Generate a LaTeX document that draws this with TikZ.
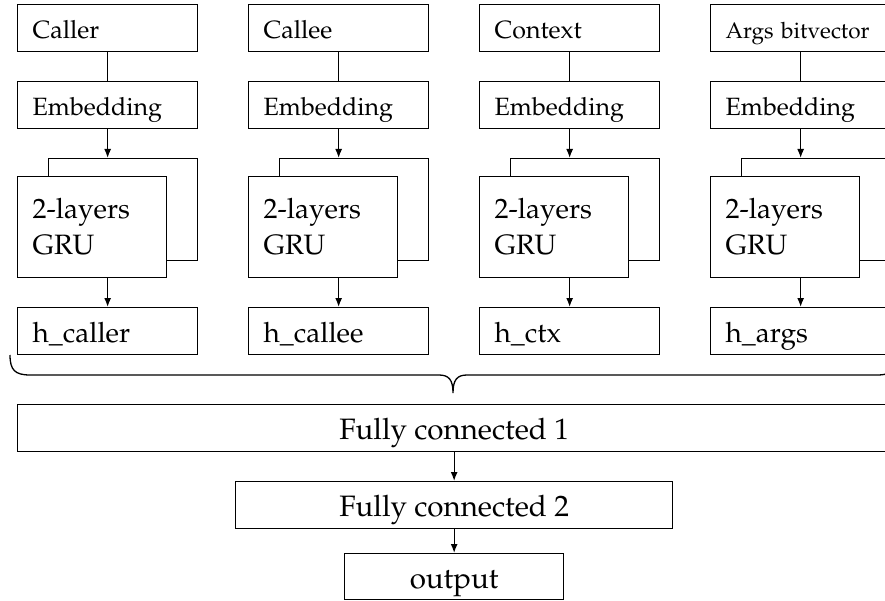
\documentclass[tikz,border=0pt]{standalone}
\usepackage[T1]{fontenc}
\usepackage{mathpazo}
\usetikzlibrary{arrows.meta}

\begin{document}
\begin{tikzpicture}[x=1pt, y=-1pt, line width=1.3pt,
  arr/.style={-{Latex[length=9pt,width=7pt]}},
  inbox/.style={draw, rectangle, anchor=north west, inner ysep=0pt, inner xsep=15pt,
    text width=150pt, minimum height=47pt, align=left,
    text height=22.5pt, text depth=2.5pt},
  hbox/.style={inbox, font=\fontsize{28}{34}\selectfont,
    text height=25.2pt, text depth=2.8pt},
  gruback/.style={draw, rectangle, anchor=north west, inner sep=0pt,
    minimum width=149pt, minimum height=102pt},
  grufront/.style={draw, fill=white, rectangle, anchor=north west, inner ysep=0pt,
    inner xsep=15pt, text width=119pt, minimum height=101pt, align=left,
    font=\fontsize{28}{36}\selectfont},
  fcbox/.style={draw, rectangle, anchor=north west, inner sep=0pt,
    minimum height=47pt, align=center, font=\fontsize{29.5}{35}\selectfont,
    text height=26.5pt, text depth=3pt}
]
\useasboundingbox (0,0) rectangle (885,601);
\clip (0,0) rectangle (885,601);

% four input branches
\foreach \i/\txt/\hx/\fs in {1/Caller/caller/25, 2/Callee/callee/25,
                              3/Context/ctx/25, 4/Args bitvector/args/22.5} {
  \pgfmathsetmacro\L{17+231*(\i-1)}
  \node[inbox, font=\fontsize{\fs}{\fs}\selectfont] (in\i) at (\L,4) {\txt};
  \node[inbox, font=\fontsize{25}{30}\selectfont] (emb\i) at (\L,81) {Embedding};
  \node[gruback] (gruB\i) at (\L+31,158) {};
  \node[grufront] (gru\i) at (\L,176) {2-layers\\GRU};
  \node[hbox] (h\i) at (\L,307) {h\_\hx};
  \draw (in\i) -- (emb\i);
  \draw[arr] (emb\i.south) -- (emb\i.south |- gruB\i.north);
  \draw[arr] (h\i.north |- gru\i.south) -- (h\i.north);
}

% brace gathering the four hidden states
\draw (10,355) .. controls (10,370) and (15,375) .. (30,375)
  -- (439,375) .. controls (449,375) and (453,380) .. (453,393)
  .. controls (453,380) and (457,375) .. (467,375)
  -- (877,375) .. controls (892,375) and (897,370) .. (897,355);

% dense head
\node[fcbox, minimum width=873pt] (fc1) at (17,404) {Fully connected 1};
\node[fcbox, minimum width=437pt] (fc2) at (235,481) {Fully connected 2};
\node[fcbox, minimum width=219pt, minimum height=46pt] (out) at (344,553) {output};
\draw[arr] (fc1) -- (fc2);
\draw[arr] (fc2) -- (out);
\end{tikzpicture}
\end{document}
